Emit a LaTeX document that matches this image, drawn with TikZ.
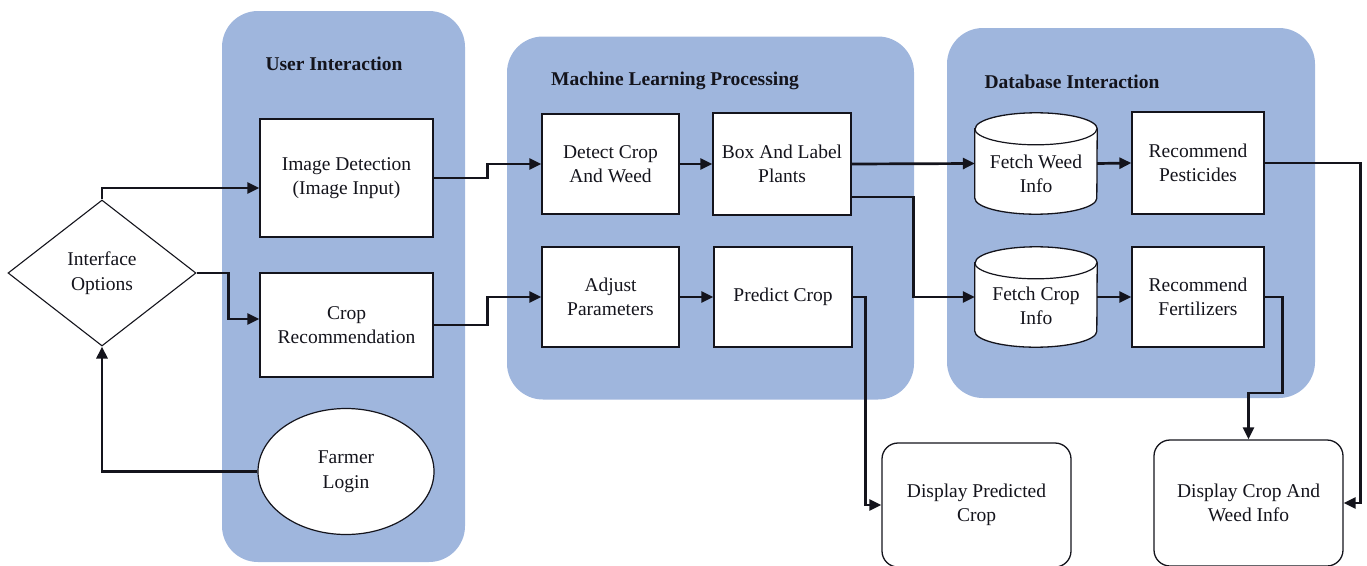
\documentclass[tikz,border=0pt]{standalone}
\usepackage{fontspec}
\setmainfont{Liberation Serif}
\usetikzlibrary{shapes.geometric,arrows.meta,calc}

\definecolor{panelblue}{RGB}{159,182,221}
\definecolor{ink}{RGB}{20,20,28}

\tikzset{
  lbl/.style={font=\fontsize{19.5}{24.5}\selectfont, text=ink, align=center},
  panel/.style={fill=panelblue, draw=none, rounded corners=36pt},
  ptitle/.style={font=\fontsize{19.5}{24}\selectfont\bfseries, text=ink},
  box/.style={lbl, draw=ink, line width=1.3pt, fill=white, rectangle, inner sep=0pt},
  dispbox/.style={box, rounded corners=16pt},
  decision/.style={lbl, diamond, draw=ink, line width=1.1pt, fill=white, inner sep=0pt},
  oval/.style={lbl, ellipse, draw=ink, line width=1.2pt, fill=white, inner sep=0pt},
  dbhook/.style={draw=none, rectangle, inner sep=0pt},
  cyl/.style={draw=ink, line width=1.3pt, fill=white},
  arr/.style={draw=ink, line width=2.7pt, -{Triangle[length=12pt,width=11pt]}}
}

\begin{document}
\begin{tikzpicture}[x=1pt,y=-1pt]
\useasboundingbox (0,0) rectangle (1367,565);

% ---- grouping panels ----
\node[panel, minimum width=243pt, minimum height=551pt] (pUser) at (343.5,286.5) {};
\node[panel, minimum width=407pt, minimum height=363pt] (pML)   at (710.5,218) {};
\node[panel, minimum width=368pt, minimum height=370pt] (pDB)   at (1131,213) {};

\node[ptitle] (tUser) at (334,64) {User Interaction};
\node[ptitle] (tML)   at (675,81) {Machine Learning Processing};
\node[ptitle] (tDB)   at (1072,82) {Database Interaction};

% ---- user interaction ----
\node[decision, minimum width=188pt, minimum height=146pt] (iface) at (102,273) {Interface\\Options};
\node[box, minimum width=173pt, minimum height=118pt] (imgdet) at (346.5,178) {Image Detection\\(Image Input)};
\node[box, minimum width=173pt, minimum height=104pt] (croprec) at (346.5,325) {Crop\\Recommendation};
\node[oval, minimum width=176pt, minimum height=126pt] (farmer) at (346,471.5) {Farmer\\Login};

% ---- machine learning ----
\node[box, minimum width=137pt, minimum height=100pt] (detect)   at (610.5,164) {Detect Crop\\And Weed};
\node[box, minimum width=138pt, minimum height=102pt] (boxlabel) at (782,164)   {Box And Label\\Plants};
\node[box, minimum width=137pt, minimum height=100pt] (adjust)   at (610.5,297) {Adjust\\Parameters};
\node[box, minimum width=138pt, minimum height=100pt] (predict)  at (783,297)   {Predict Crop};

% ---- database cylinders ----
\node[dbhook, minimum width=122pt, minimum height=101pt] (fweed) at (1036,163.5) {};
\node[dbhook, minimum width=122pt, minimum height=100pt] (fcrop) at (1036,297) {};
\foreach \n in {fweed,fcrop}{
  \path[cyl] ($(\n.north west)+(0,16)$) -- ($(\n.south west)+(0,-16)$)
     arc[start angle=180,end angle=360,x radius=61pt,y radius=16pt]
     -- ($(\n.north east)+(0,16)$)
     arc[start angle=0,end angle=180,x radius=61pt,y radius=16pt] -- cycle;
  \draw[draw=ink, line width=1.2pt] ($(\n.north west)+(0,16)$)
     arc[start angle=180,end angle=360,x radius=61pt,y radius=16pt];
}
\node[lbl] (fweedtxt) at (1036,174) {Fetch Weed\\Info};
\node[lbl] (fcroptxt) at (1036,306) {Fetch Crop\\Info};

\node[box, minimum width=132pt, minimum height=102pt] (pest) at (1198,163) {Recommend\\Pesticides};
\node[box, minimum width=132pt, minimum height=100pt] (fert) at (1198,297) {Recommend\\Fertilizers};

% ---- outputs ----
\node[dispbox, minimum width=189pt, minimum height=124pt] (dpred) at (976.5,505) {Display Predicted\\Crop};
\node[dispbox, minimum width=189pt, minimum height=126pt] (dcw)   at (1248.5,503) {Display Crop And\\Weed Info};

% ---- connectors ----
\draw[arr] (iface.north) |- ([yshift=-10pt]imgdet.west);
\draw[arr] (iface.east) -- ++(32,0) |- ([yshift=6pt]croprec.west);
\draw[arr] (farmer.west) -| (iface.south);

\draw[arr] (imgdet.east) -- ++(54,0) |- (detect.west);
\draw[arr] (croprec.east) -- ++(54,0) |- (adjust.west);
\draw[arr] (detect.east) -- (boxlabel.west);
\draw[arr] (adjust.east) -- (predict.west);

\draw[arr] (boxlabel.east) -- (fweed.west);
\draw[arr] ([yshift=-33pt]boxlabel.east) -- ++(62,0) |- (fcrop.west);
\draw[arr] (fweed.east) -- (pest.west);
\draw[arr] (fcrop.east) -- (fert.west);

\draw[arr] (predict.east) -- ++(13,0) |- (dpred.west);
\draw[arr] (pest.east) -- ++(96,0) |- (dcw.east);
\draw[arr] (fert.east) -- ++(18,0) -- ++(0,96) -| (dcw.north);
\end{tikzpicture}
\end{document}
